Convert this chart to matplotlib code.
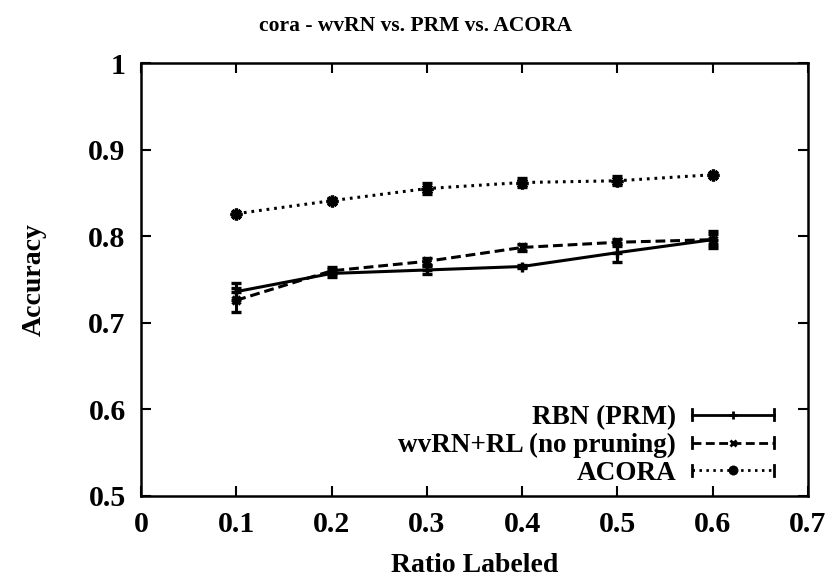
import matplotlib
matplotlib.use("Agg")
import matplotlib.pyplot as plt
from matplotlib.legend_handler import HandlerBase
from matplotlib.lines import Line2D

plt.rcParams['font.family'] = ['Liberation Serif', 'DejaVu Serif']
plt.rcParams['font.weight'] = 'bold'

title = "cora - wvRN vs. PRM vs. ACORA"
xlabel = "Ratio Labeled"
ylabel = "Accuracy"

ratios = [0.1, 0.2, 0.3, 0.4, 0.5, 0.6]
rbn = [0.736, 0.757, 0.761, 0.765, 0.781, 0.796]
rbn_err = [0.010, 0.004, 0.005, 0.002, 0.011, 0.010]
wvrn = [0.726, 0.760, 0.771, 0.787, 0.793, 0.796]
wvrn_err = [0.014, 0.004, 0.004, 0.004, 0.004, 0.006]
acora = [0.826, 0.841, 0.855, 0.862, 0.864, 0.871]
acora_err = [0.002, 0.003, 0.006, 0.005, 0.005, 0.002]

labels = ["RBN (PRM)", "wvRN+RL (no pruning)", "ACORA"]
xticks = [0, 0.1, 0.2, 0.3, 0.4, 0.5, 0.6, 0.7]
yticks = [0.5, 0.6, 0.7, 0.8, 0.9, 1.0]
xtick_labels = ["0", "0.1", "0.2", "0.3", "0.4", "0.5", "0.6", "0.7"]
ytick_labels = ["0.5", "0.6", "0.7", "0.8", "0.9", "1"]

fig = plt.figure(figsize=(8.3, 5.77), dpi=100)
ax = fig.add_axes([141/830, 1-496/577, (808-141)/830, (496-63)/577])

asterisk = (8, 2, 0)
styles = [
    dict(ls='-', marker='+', ms=7, dashes=None),
    dict(ls='--', marker='x', ms=6, dashes=(3.2, 1.6)),
    dict(ls=':', marker=asterisk, ms=8.5, dashes=(0.9, 1.6)),
]
series = [(rbn, rbn_err), (wvrn, wvrn_err), (acora, acora_err)]

for (vals, errs), st, lab in zip(series, styles, labels):
    cont = ax.errorbar(ratios, vals, yerr=errs, color='black', lw=2.2,
                       marker=st['marker'], ms=st['ms'], mew=2.4,
                       capsize=3.5, capthick=2.2, elinewidth=2.2, label=lab)
    line = cont.lines[0]
    if st['dashes'] is not None:
        line.set_dashes(st['dashes'])
        line.set_dash_capstyle('butt')


class SampleHandler(HandlerBase):
    def __init__(self, dashes, marker, ms):
        super().__init__()
        self.dashes = dashes
        self.marker = marker
        self.ms = ms

    def create_artists(self, legend, orig_handle, xdescent, ydescent,
                       width, height, fontsize, trans):
        y = height / 2 - ydescent
        ln = Line2D([-xdescent, width - xdescent], [y, y], color='black', lw=2.0)
        if self.dashes is not None:
            ln.set_dashes(self.dashes)
        mk = Line2D([width / 2 - xdescent], [y], color='black', marker=self.marker,
                    ms=self.ms, mew=2.0, ls='none')
        capl = Line2D([-xdescent, -xdescent], [y - 4, y + 4], color='black', lw=2.0)
        capr = Line2D([width - xdescent, width - xdescent], [y - 4, y + 4], color='black', lw=2.0)
        arts = [ln, mk, capl, capr]
        for a in arts:
            a.set_transform(trans)
        return arts


handles, labs = ax.get_legend_handles_labels()
hmap = {h: SampleHandler(st['dashes'], st['marker'], st['ms'] * 0.8)
        for h, st in zip(handles, styles)}
leg = ax.legend(handles, labs, handler_map=hmap, loc='lower right',
                bbox_to_anchor=(0.973, -0.014), markerfirst=False, frameon=False,
                fontsize=19.5, handlelength=3.0, handletextpad=0.6,
                labelspacing=0.1, borderaxespad=0.2)
for t in leg.get_texts():
    t.set_fontweight('bold')

ax.set_xlim(0, 0.7)
ax.set_ylim(0.5, 1.0)
ax.set_xticks(xticks)
ax.set_xticklabels(xtick_labels)
ax.set_yticks(yticks)
ax.set_yticklabels(ytick_labels)
ax.tick_params(direction='in', length=7, width=1.5, top=True, right=True,
               labelsize=21.5, pad=11)
for lab in ax.get_xticklabels() + ax.get_yticklabels():
    lab.set_fontweight('bold')
for sp in ax.spines.values():
    sp.set_linewidth(1.8)

fig.suptitle(title, x=0.5, y=1 - 26/577, va='center', fontsize=15.5, fontweight='bold')
ax.set_xlabel(xlabel, fontsize=20, fontweight='bold', labelpad=10.5)
ax.set_ylabel(ylabel, fontsize=20, fontweight='bold', labelpad=30)

fig.savefig("out.png", dpi=100)
